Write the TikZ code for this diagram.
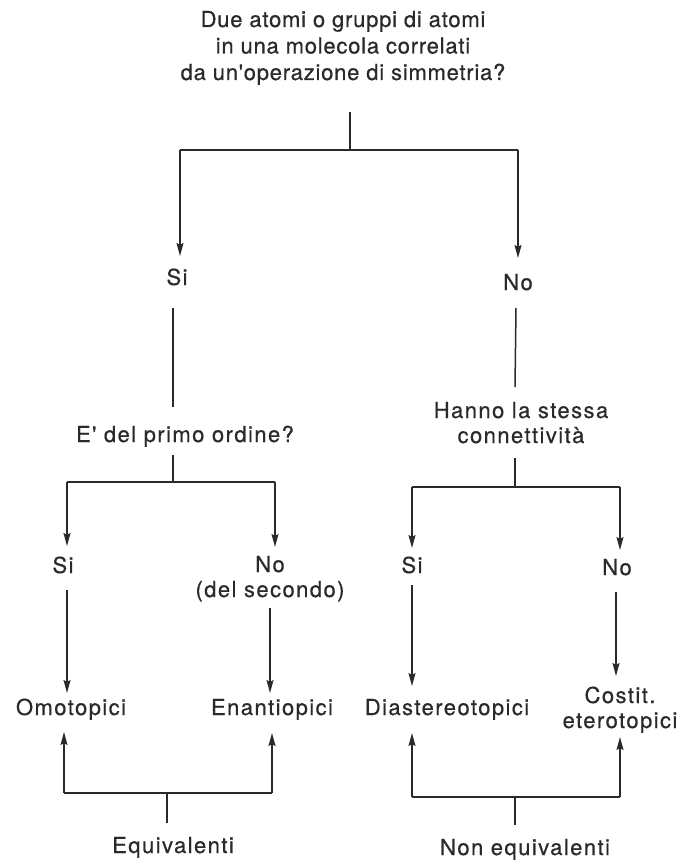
\documentclass[tikz,border=0pt]{standalone}
\usepackage{fontspec}
\setmainfont{TeX Gyre Heros}
\newfontfamily\topf{TeX Gyre Heros}[LetterSpace=3.5,FakeBold=0.5]
\newfontfamily\labf{TeX Gyre Heros}[LetterSpace=6.5,FakeBold=0.5]
\usetikzlibrary{arrows.meta}
\definecolor{ink}{HTML}{2A2A2A}
\begin{document}
\begin{tikzpicture}[x=1pt,y=-1pt,
  ln/.style={draw=ink,line width=1.5pt},
  arr/.style={ln,-{Stealth[length=13pt,width=7pt,inset=2pt]}},
  toptxt/.style={anchor=base,inner sep=0pt,text=ink,align=center,font=\topf\fontsize{22}{26.5}\selectfont},
  lab/.style={anchor=base,inner sep=0pt,text=ink,align=center,font=\labf\fontsize{22}{25}\selectfont}]
\useasboundingbox (0,0) rectangle (681,861);
\fill[white] (0,0) rectangle (681,861);

% top question (base = last line)
\node[toptxt] (q) at (343,80) {Due atomi o gruppi di atomi\\in una molecola correlati\\da un'operazione di simmetria?};
\coordinate (q0) at (350,112);
\coordinate (qj) at (350,150);
\coordinate (a1) at (180,150);
\coordinate (a2) at (518,150);
\coordinate (a1e) at (180,256);
\coordinate (a2e) at (518,258);
\draw[ln] (q0) -- (qj);
\draw[ln] (a1) -- (a2);
\draw[arr] (a1) -- (a1e);
\draw[arr] (a2) -- (a2e);

\node[lab] (si1) at (177,285) {Si};
\node[lab] (no1) at (518,290) {No};

% left branch
\coordinate (l1s) at (173,308);
\coordinate (l1e) at (173,407);
\draw[ln] (l1s) -- (l1e);
\node[lab] (prim) at (185,442) {E' del primo ordine?};
\coordinate (p0) at (173,455);
\coordinate (pj) at (173,482);
\coordinate (b1) at (67,482);
\coordinate (b2) at (275,482);
\coordinate (b1e) at (67,546);
\coordinate (b2e) at (275,547);
\draw[ln] (p0) -- (pj);
\draw[ln] (b1) -- (b2);
\draw[arr] (b1) -- (b1e);
\draw[arr] (b2) -- (b2e);
\node[lab] (si2) at (63,573) {Si};
\node[lab] (no2) at (270,597) {No\\(del secondo)};
\coordinate (c1s) at (67,590);
\coordinate (c1e) at (67,693);
\coordinate (c2s) at (270,608);
\coordinate (c2e) at (270,693);
\draw[arr] (c1s) -- (c1e);
\draw[arr] (c2s) -- (c2e);
\node[lab] (omo) at (71,715) {Omotopici};
\node[lab] (ena) at (272,715) {Enantiopici};
\coordinate (e1) at (64,793);
\coordinate (e2) at (272,793);
\coordinate (e1t) at (64,732);
\coordinate (e2t) at (272,733);
\coordinate (ej) at (167,793);
\coordinate (ejb) at (167,823);
\draw[ln] (e1) -- (e2);
\draw[arr] (e1) -- (e1t);
\draw[arr] (e2) -- (e2t);
\draw[ln] (ej) -- (ejb);
\node[lab] (equ) at (173,853) {Equivalenti};

% right branch
\coordinate (r1s) at (516,308);
\coordinate (r1e) at (515,387);
\draw[ln] (r1s) -- (r1e);
\node[lab] (con) at (521,443) {Hanno la stessa\\connettività};
\coordinate (k0) at (515,458);
\coordinate (kj) at (515,487);
\coordinate (d1) at (412,487);
\coordinate (d2) at (620,487);
\coordinate (d1e) at (412,548);
\coordinate (d2e) at (620,550);
\draw[ln] (k0) -- (kj);
\draw[ln] (d1) -- (d2);
\draw[arr] (d1) -- (d1e);
\draw[arr] (d2) -- (d2e);
\node[lab] (si3) at (412,573) {Si};
\node[lab] (no3) at (617,575) {No};
\coordinate (f1s) at (412,585);
\coordinate (f1e) at (412,686);
\coordinate (f2s) at (616,592);
\coordinate (f2e) at (616,676);
\draw[arr] (f1s) -- (f1e);
\draw[arr] (f2s) -- (f2e);
\node[lab] (dia) at (447,715) {Diastereotopici};
\node[lab] (cos) at (620,728) {Costit.\\eterotopici};
\coordinate (g1) at (412,797);
\coordinate (g2) at (620,797);
\coordinate (g1t) at (412,733);
\coordinate (g2t) at (620,737);
\coordinate (gj) at (515,797);
\coordinate (gjb) at (515,825);
\draw[ln] (g1) -- (g2);
\draw[arr] (g1) -- (g1t);
\draw[arr] (g2) -- (g2t);
\draw[ln] (gj) -- (gjb);
\node[lab] (neq) at (525,855) {Non equivalenti};
\end{tikzpicture}
\end{document}
